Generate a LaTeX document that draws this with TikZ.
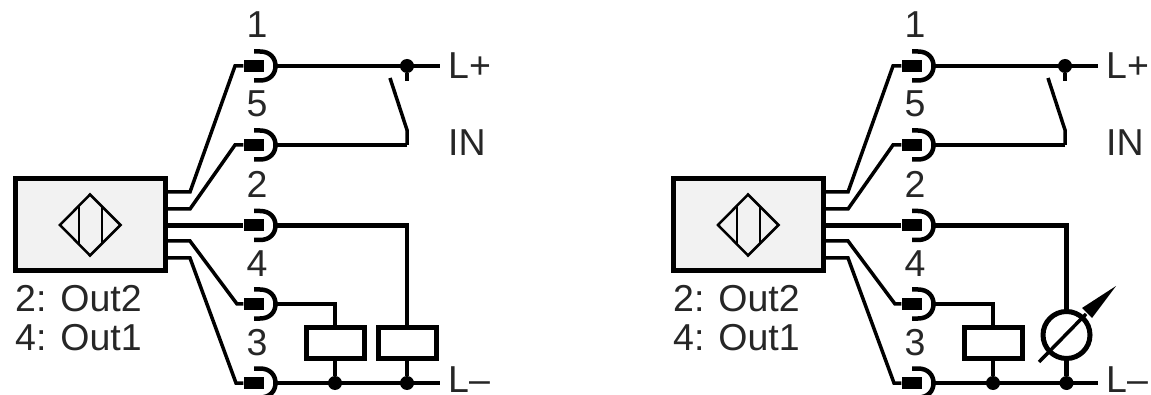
\documentclass[tikz,border=0pt]{standalone}
\usepackage{fontspec}
\setmainfont{Liberation Sans}
\newcommand{\sensorside}{%
  \node[sensorbox] (box) at (90,225) {};
  \draw[symbolline] (60,225) -- (90,194.5) -- (120.5,225) -- (90,255.5) -- cycle;
  \draw[symbolline] (79,206) -- (79,244) (102,207) -- (102,243);
  \foreach \n/\y/\lab/\ly in {1/66/1/38,5/145/5/117,2/225.5/2/198,4/304/4/277,3/383/3/355}{
    \node[plugblock] (p\n) at (253.5,\y) {};
    \coordinate (s\n) at (275.5,\y);
    \draw[socketline] (254,\y-14.5) -- (260,\y-14.5) .. controls (270,\y-14.5) and (275.5,\y-8) .. (s\n)
      .. controls (275.5,\y+8) and (270,\y+14.5) .. (260,\y+14.5) -- (254,\y+14.5);
    \node[lbl,anchor=base] (n\n) at (257,\ly) {\lab};
  }
  \coordinate (b1) at (167,192);
  \coordinate (b5) at (167,209);
  \coordinate (b2) at (167,225.5);
  \coordinate (b4) at (167,241);
  \coordinate (b3) at (167,258);
  \draw[thinwire] (b1) -- (190,192) -- (235,66) -- (p1);
  \draw[thinwire] (b5) -- (190,209) -- (235,145) -- (p5);
  \draw[wire] (b2) -- (p2);
  \draw[thinwire] (b4) -- (190,241) -- (237,304) -- (p4);
  \draw[thinwire] (b3) -- (190,258) -- (236,383) -- (p3);
  \node[lbl,anchor=base west] (o2) at (15,312) {2: Out2};
  \node[lbl,anchor=base west] (o1) at (15,350) {4: Out1};
  \node[lbl,anchor=base west] (lp) at (448,79) {L+};
  \node[lbl,anchor=base west] (in) at (448,156) {IN};
  \node[lbl,anchor=base west] (lm) at (448,392) {L\textendash};
  \coordinate (lpe) at (440,66);
  \coordinate (lme) at (440,383);
  \node[junction] (j1) at (407,66) {};
  \draw[wire] (s1) -- (lpe);
  \draw[wire] (j1) -- (407,81.5);
  \draw[wire,line width=3.5pt,miter limit=2] (390,78) -- (407,130) -- (407,145);
  \draw[wire] (407,145) -- (s5);
  \draw[wire] (s3) -- (lme);
  \node[relay] (r1) at (335,342.5) {};
  \node[junction] (j2) at (335,383) {};
  \draw[thinwire] (s4) -- (335,304) -- (r1.north);
  \draw[wire] (r1.south) -- (j2);
}
\tikzset{
  sensorbox/.style={draw=black,fill=black!5,line width=5pt,minimum width=150pt,minimum height=92pt,inner sep=0pt},
  symbolline/.style={draw=black,line width=2.5pt},
  plugblock/.style={fill=black,draw=none,minimum width=20pt,minimum height=12pt,inner sep=0pt},
  socketline/.style={draw=black,line width=4.5pt},
  thinwire/.style={draw=black,line width=3.5pt},
  wire/.style={draw=black,line width=4.5pt},
  relay/.style={draw=black,fill=white,line width=5pt,minimum width=58pt,minimum height=31pt,inner sep=0pt},
  junction/.style={circle,fill=black,minimum size=14pt,inner sep=0pt},
  meter/.style={circle,draw=black,line width=5pt,minimum size=47pt,inner sep=0pt},
  lbl/.style={font=\fontsize{37.5}{38}\selectfont,inner sep=0pt,text=black!85},
}
\begin{document}
\begin{tikzpicture}[x=1pt,y=-1pt]
\useasboundingbox (0,0) rectangle (1151,395);
\begin{scope}[name prefix=a-]
  \sensorside
  \node[relay] (r2) at (407,342.5) {};
  \node[junction] (j3) at (407,383) {};
  \draw[wire] (s2) -- (407,225.5) -- (r2.north);
  \draw[wire] (r2.south) -- (j3);
\end{scope}
\begin{scope}[shift={(658,0)},name prefix=b-]
  \sensorside
  \node[meter] (m) at (408.5,335) {};
  \node[junction] (j3) at (408.5,383) {};
  \coordinate (mt) at (381,362);
  \coordinate (mh) at (458,286);
  \draw[wire] (s2) -- (408.5,225.5) -- (m.north);
  \draw[wire] (m.south) -- (j3);
  \draw[line width=3.5pt] (mt) -- (428,314);
  \fill[black] (mh) -- (424,308) -- (434,318) -- cycle;
\end{scope}
\end{tikzpicture}
\end{document}
